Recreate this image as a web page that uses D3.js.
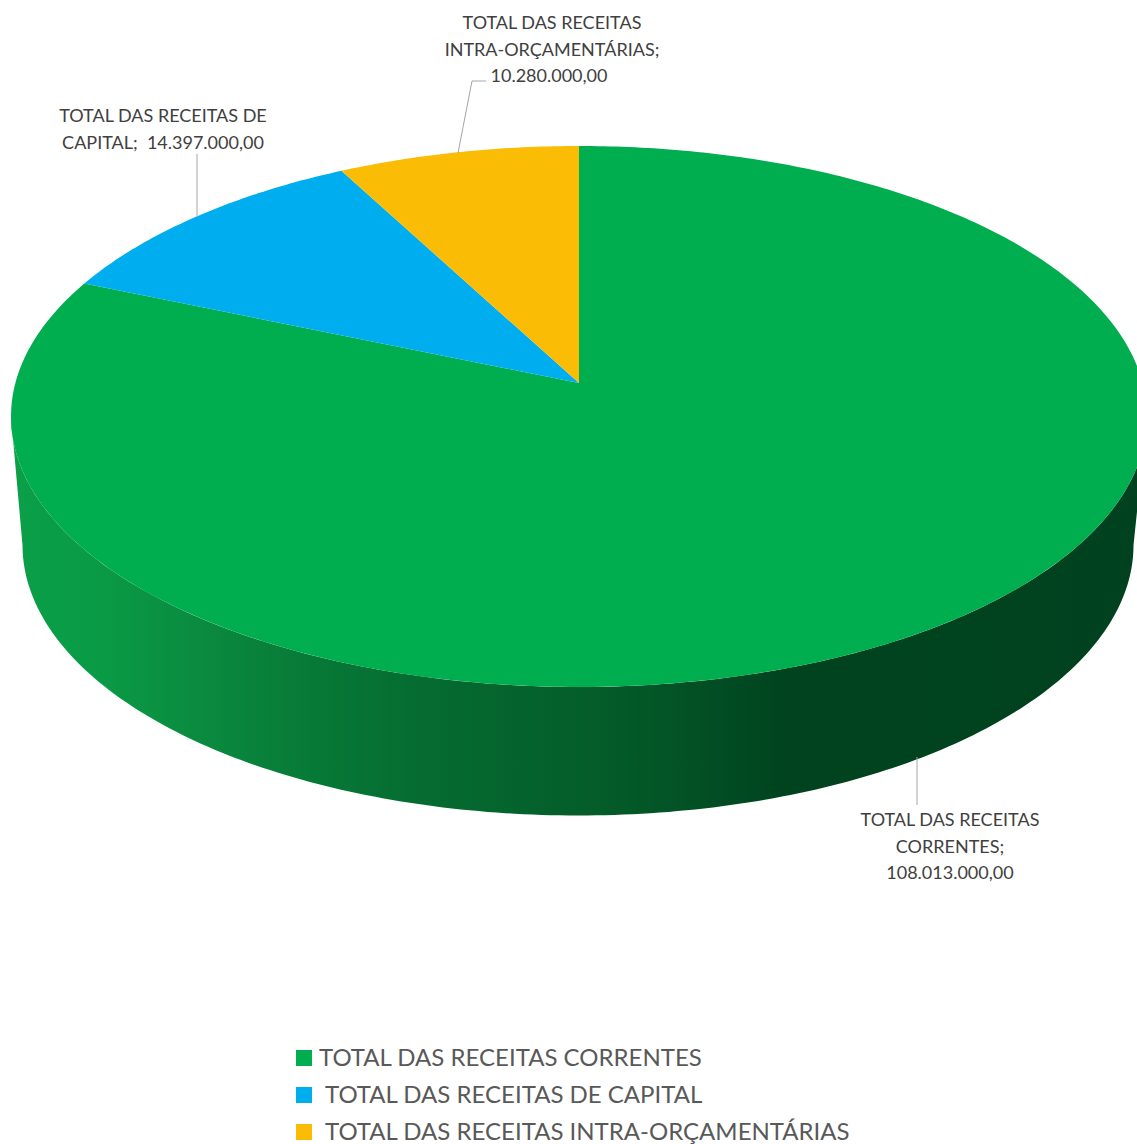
<!DOCTYPE html>
<html>
<head>
<meta charset="utf-8">
<script src="https://cdn.jsdelivr.net/npm/d3@7"></script>
<style>
html, body { margin: 0; padding: 0; background: #fff; overflow: hidden; }
text { font-family: Lato, "Open Sans", sans-serif; }
</style>
</head>
<body>
<div id="chart"></div>
<script>
const categories = ['TOTAL DAS RECEITAS CORRENTES', 'TOTAL DAS RECEITAS DE CAPITAL', 'TOTAL DAS RECEITAS INTRA-ORÇAMENTÁRIAS'];
const values = [108013000, 14397000, 10280000];
const colors = ['#00ae50', '#00adef', '#fbbc05'];
const labelLines = [
    ['TOTAL DAS RECEITAS', 'CORRENTES;', '108.013.000,00'],
    ['TOTAL DAS RECEITAS DE', 'CAPITAL;  14.397.000,00'],
    ['TOTAL DAS RECEITAS', 'INTRA-ORÇAMENTÁRIAS;', '10.280.000,00']
];
const labelAnchors = [[950, 826], [163, 122], [552, 29]];
const lineShift = [[0, 0, 0], [0, 0], [0, 0, -3]];
const leaders = [
    [[917, 757], [917, 805]],
    [[197, 217], [197, 154]],
    [[458, 153], [472, 81], [486, 81]]
];
const sideStops = [
    [0, '#0aa049'], [0.09, '#0a9a45'], [0.18, '#0a8a3f'], [0.27, '#077a37'],
    [0.36, '#056d31'], [0.53, '#045c29'], [0.62, '#024f24'], [0.69, '#00431e'], [1, '#00421f']
];

const width = 1137, height = 1144;
const cx = 579, apexY = 383, rimTop = 146, rimBottom = 687, halfWidth = 568;

// perspective of the pie's top face: v = 1 is the far edge, v = -1 the near edge
const c = (rimTop + rimBottom - 2 * apexY) / (rimBottom - rimTop);
const a = rimTop * (1 + c) - apexY;
const radius = halfWidth * Math.sqrt(1 - c * c);

function project(angle, r) {
    const u = r * Math.sin(angle), v = r * Math.cos(angle);
    const w = 1 + c * v;
    return [cx + radius * u / w, (a * v + apexY) / w];
}

const depth = 128.5, shrink = 0.978, baseCx = 578;
function projectBase(angle) {
    const p = project(angle, 1);
    return [baseCx + (p[0] - cx) * shrink, p[1] + depth];
}

const svg = d3.select('#chart').append('svg')
    .attr('width', width)
    .attr('height', height);

const grad = svg.append('defs').append('linearGradient')
    .attr('id', 'side')
    .attr('gradientUnits', 'userSpaceOnUse')
    .attr('x1', 0).attr('x2', width).attr('y1', 0).attr('y2', 0);
grad.selectAll('stop')
    .data(sideStops)
    .enter()
    .append('stop')
    .attr('offset', d => d[0])
    .attr('stop-color', d => d[1]);

const line = d3.line();

// side wall: near half of the rim and of the base
const rightAngle = Math.PI / 2 + Math.asin(c);
const leftAngle = Math.PI * 1.5 - Math.asin(c);
const front = d3.range(0, 201).map(i => rightAngle + (leftAngle - rightAngle) * i / 200);
const sidePts = front.map(t => project(t, 1)).concat(front.slice().reverse().map(projectBase));
svg.append('path')
    .attr('d', line(sidePts) + 'Z')
    .attr('fill', 'url(#side)');

// top face
const arcs = d3.pie().sort(null).value(d => d)(values);
svg.selectAll('path.slice')
    .data(arcs)
    .enter()
    .append('path')
    .attr('class', 'slice')
    .attr('d', d => {
        const n = Math.ceil((d.endAngle - d.startAngle) * 80);
        const pts = d3.range(n + 1).map(i => project(d.startAngle + (d.endAngle - d.startAngle) * i / n, 1));
        return line([project(0, 0)].concat(pts)) + 'Z';
    })
    .attr('fill', (d, i) => colors[i]);

// leader lines
svg.selectAll('path.leader')
    .data(leaders)
    .enter()
    .append('path')
    .attr('class', 'leader')
    .attr('d', d => line(d))
    .attr('fill', 'none')
    .attr('stroke', '#a6a6a6')
    .attr('stroke-width', 1);

// data labels
labelLines.forEach((lines, i) => {
    svg.append('text')
        .attr('text-anchor', 'middle')
        .attr('font-size', 18)
        .attr('fill', '#404040')
        .attr('xml:space', 'preserve')
        .selectAll('tspan')
        .data(lines)
        .enter()
        .append('tspan')
        .attr('x', (d, j) => labelAnchors[i][0] + lineShift[i][j])
        .attr('y', (d, j) => labelAnchors[i][1] + j * 26.5)
        .text(d => d);
});

// legend
const legendX = d3.scaleOrdinal().domain(categories).range([319, 325, 325]);
const legendY = d3.scalePoint().domain(categories).range([1058, 1132]);
svg.selectAll('rect.key')
    .data(categories)
    .enter()
    .append('rect')
    .attr('class', 'key')
    .attr('x', 296)
    .attr('y', d => legendY(d) - 8)
    .attr('width', 16)
    .attr('height', 16)
    .attr('fill', (d, i) => colors[i]);
svg.selectAll('text.legend')
    .data(categories)
    .enter()
    .append('text')
    .attr('class', 'legend')
    .attr('x', d => legendX(d))
    .attr('y', d => legendY(d) + 8)
    .attr('font-size', 24)
    .attr('fill', '#595959')
    .text(d => d);
</script>
</body>
</html>
